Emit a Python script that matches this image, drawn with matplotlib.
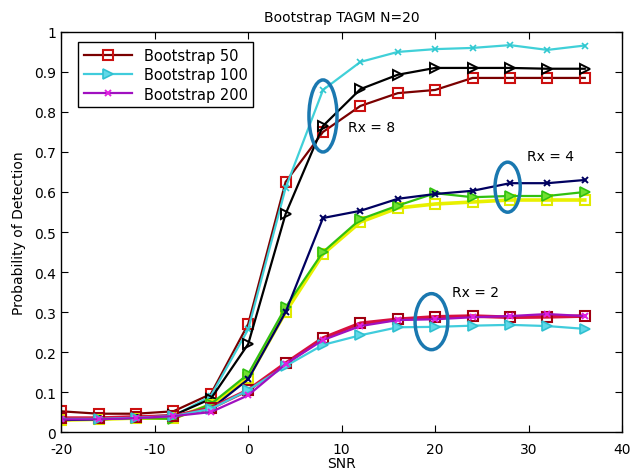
import numpy as np
import matplotlib
matplotlib.use("Agg")
from matplotlib import pyplot as plt
from matplotlib.patches import Ellipse

snr = [-20, -16, -12, -8, -4, 0, 4, 8, 12, 16, 20, 24, 28, 32, 36]

# Rx = 8
rx8_b50 = [0.052, 0.046, 0.046, 0.052, 0.095, 0.27, 0.625, 0.75, 0.815, 0.847, 0.855, 0.885, 0.885, 0.885, 0.885]
rx8_b100 = [0.03, 0.032, 0.036, 0.04, 0.09, 0.257, 0.61, 0.855, 0.925, 0.95, 0.957, 0.96, 0.967, 0.955, 0.966]
rx8_b200 = [0.035, 0.035, 0.038, 0.042, 0.083, 0.22, 0.545, 0.765, 0.857, 0.893, 0.91, 0.91, 0.91, 0.908, 0.908]
# Rx = 4
rx4_b50 = [0.03, 0.032, 0.035, 0.035, 0.068, 0.135, 0.30, 0.445, 0.525, 0.56, 0.57, 0.575, 0.58, 0.58, 0.58]
rx4_b100 = [0.03, 0.032, 0.035, 0.033, 0.07, 0.145, 0.312, 0.45, 0.532, 0.566, 0.597, 0.587, 0.59, 0.59, 0.6]
rx4_b200 = [0.03, 0.032, 0.036, 0.04, 0.058, 0.132, 0.30, 0.535, 0.553, 0.583, 0.595, 0.603, 0.622, 0.622, 0.63]
# Rx = 2
rx2_b50 = [0.035, 0.035, 0.038, 0.04, 0.06, 0.105, 0.172, 0.235, 0.272, 0.282, 0.288, 0.29, 0.287, 0.288, 0.29]
rx2_b100 = [0.033, 0.033, 0.036, 0.04, 0.058, 0.105, 0.165, 0.218, 0.242, 0.262, 0.263, 0.266, 0.268, 0.265, 0.258]
rx2_b200 = [0.032, 0.032, 0.035, 0.04, 0.05, 0.092, 0.17, 0.23, 0.265, 0.28, 0.282, 0.287, 0.29, 0.295, 0.29]

plt.rcParams['font.family'] = ['DejaVu Sans']
plt.rcParams['axes.unicode_minus'] = False
fig = plt.figure(figsize=(6.31, 4.77), dpi=100)
ax = fig.add_axes([0.097, 0.092, 0.889, 0.839])

lw = 1.6
ms = 7
# Rx = 8 group
ax.plot(snr, rx8_b50, color='#7a0000', lw=lw, marker='s', ms=ms, mfc='none', mec='#cc1010', mew=1.5, label='Bootstrap 50')
ax.plot(snr, rx8_b100, color='#40d0d8', lw=lw, marker='x', ms=5, mec='#30c8d0', mew=1.2)
ax.plot(snr, rx8_b200, color='black', lw=lw, marker='>', ms=ms, mfc='none', mew=1.4)
# Rx = 4 group
ax.plot(snr, rx4_b50, color='#e8f000', lw=lw + 1, marker='s', ms=ms, mfc='none', mec='#e0ea00', mew=1.5)
ax.plot(snr, rx4_b100, color='#30c010', lw=lw, marker='>', ms=ms, mfc='#70e030', mec='#30c010', mew=1.2)
ax.plot(snr, rx4_b200, color='#000060', lw=lw, marker='x', ms=5, mew=1.4)
# Rx = 2 group
ax.plot(snr, rx2_b50, color='#d81040', lw=lw + 1, marker='s', ms=ms, mfc='none', mec='#a00010', mew=1.5)
ax.plot(snr, rx2_b100, color='#40ccdc', lw=lw, marker='>', ms=ms, mfc='#60d8e8', mec='#30c0d0', mew=1.2, label='Bootstrap 100')
ax.plot(snr, rx2_b200, color='#a010c0', lw=lw, marker='x', ms=5, mec='#e020e0', mew=1.4, label='Bootstrap 200')

ell_color = '#1a78b0'
for (cx, cy, w, h) in [(8, 0.79, 3.0, 0.18), (27.75, 0.612, 2.7, 0.125), (19.6, 0.276, 3.5, 0.14)]:
    ax.add_patch(Ellipse((cx, cy), w, h, fill=False, ec=ell_color, lw=2.5, zorder=5))

ax.text(10.7, 0.762, 'Rx = 8', fontsize=10, va='center', ha='left')
ax.text(29.8, 0.69, 'Rx = 4', fontsize=10, va='center', ha='left')
ax.text(21.8, 0.35, 'Rx = 2', fontsize=10, va='center', ha='left')

ax.set_xlim(-20, 40)
ax.set_ylim(0, 1)
ax.set_xticks(np.arange(-20, 41, 10))
ax.set_yticks(np.arange(0, 1.01, 0.1))
ax.set_yticklabels(['0', '0.1', '0.2', '0.3', '0.4', '0.5', '0.6', '0.7', '0.8', '0.9', '1'])
ax.tick_params(direction='in', top=True, right=True, labelsize=10, length=5)
ax.tick_params(axis='x', pad=7)
for s in ax.spines.values():
    s.set_linewidth(1.0)

ax.set_title('Bootstrap TAGM N=20', fontsize=10, pad=8)
ax.set_xlabel('SNR', fontsize=10, labelpad=0)
ax.set_ylabel('Probability of Detection', fontsize=10, labelpad=6)

leg = ax.legend(loc='upper left', bbox_to_anchor=(0.03, 0.975), borderaxespad=0, fancybox=False,
                edgecolor='black', fontsize=10.5, handlelength=3.3, framealpha=1, labelspacing=0.3)
leg.get_frame().set_linewidth(1.0)

fig.savefig('out.png', dpi=100)
